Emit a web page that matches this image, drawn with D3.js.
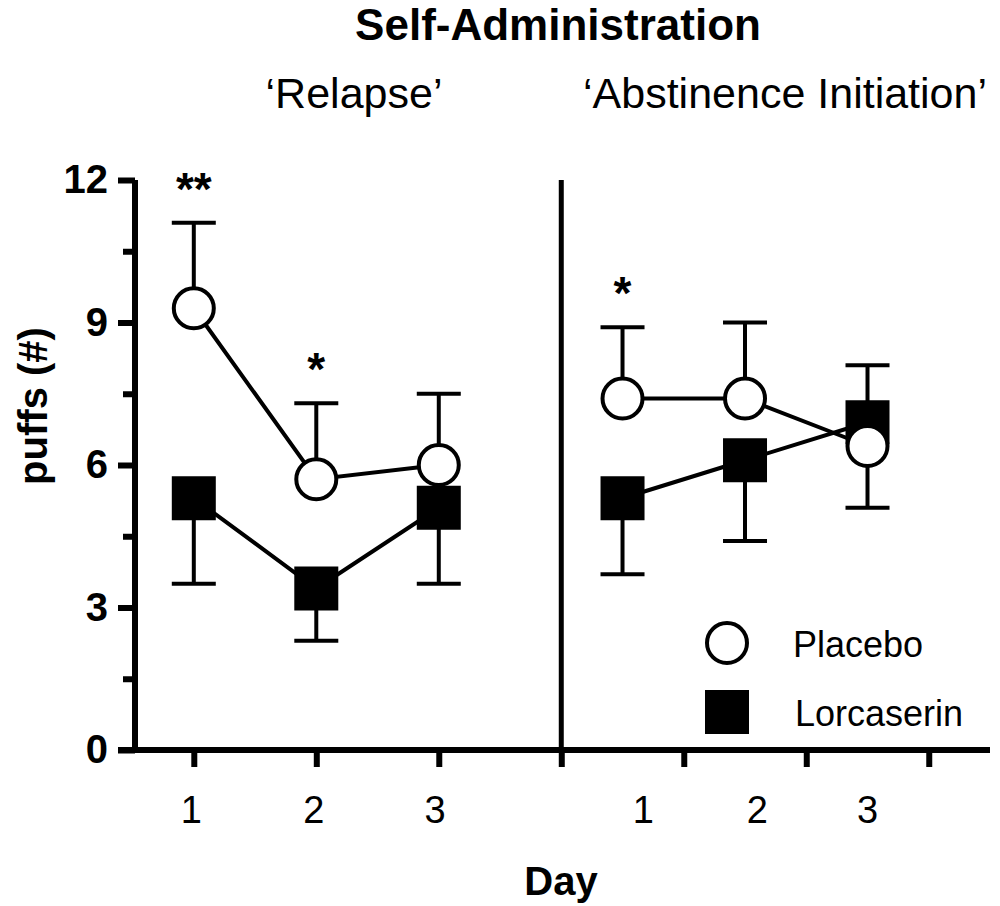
<!DOCTYPE html>
<html>
<head>
<meta charset="utf-8">
<script src="https://cdn.jsdelivr.net/npm/d3@7"></script>
<style>
  html, body { margin: 0; padding: 0; background: #fff; }
  svg { display: block; }
  text { font-family: "Liberation Sans", Arial, Helvetica, sans-serif; fill: #000; }
</style>
</head>
<body>
<svg id="chart" width="1000" height="906"></svg>
<script>
// ---------- data ----------
const days = [1, 2, 3];
const dayTickLabels = ["1", "2", "3"];
const phases = ["‘Relapse’", "‘Abstinence Initiation’"];
const seriesNames = ["Placebo", "Lorcaserin"];

// Relapse phase
const placeboRelapse = [9.3, 5.7, 6.0];
const placeboRelapseSEM = [1.8, 1.6, 1.5];
const placeboRelapseDir = [1, 1, 1];
const lorcaserinRelapse = [5.3, 3.4, 5.1];
const lorcaserinRelapseSEM = [1.8, 1.1, 1.6];
const lorcaserinRelapseDir = [-1, -1, -1];

// Abstinence initiation phase
const placeboAbstinence = [7.4, 7.4, 6.4];
const placeboAbstinenceSEM = [1.5, 1.6, 1.3];
const placeboAbstinenceDir = [1, 1, -1];
const lorcaserinAbstinence = [5.3, 6.1, 6.9];
const lorcaserinAbstinenceSEM = [1.6, 1.7, 1.2];
const lorcaserinAbstinenceDir = [-1, -1, 1];

// significance marks: [phase index, day, label]
const sigPhase = [0, 0, 1];
const sigDay = [1, 2, 1];
const sigLabel = ["**", "*", "*"];

const yTicksMajor = [0, 3, 6, 9, 12];
const yTicksMinor = [1.5, 4.5, 7.5, 10.5];

// ---------- layout ----------
const svg = d3.select("#chart");
const FONT = '"Liberation Sans", Arial, Helvetica, sans-serif';

// x in "slot" units: relapse days at 1..3, abstinence days at 4.5..6.5
const phaseOffset = [0, 3.5];
const x = d3.scaleLinear().domain([0.52, 7.5]).range([135, 990]);
const y = d3.scaleLinear().domain([0, 12]).range([750, 180]);
// label slots along x axis for day numbers (as drawn in the source figure)
const dayLabelSlots = [0.98, 1.98, 2.97, 4.67, 5.6, 6.5];

const AXIS_W = 6;
const LINE_W = 4;

// ---------- axes ----------
const yAxis = d3.axisLeft(y).tickValues(yTicksMajor).tickSize(17).tickPadding(10)
  .tickFormat(d3.format("d"));
const gy = svg.append("g").attr("transform", `translate(${x(0.52)},0)`).call(yAxis);
gy.select(".domain").attr("stroke", "#000").attr("stroke-width", AXIS_W)
  .attr("d", `M0,${y(12)}V${y(0)}`);
gy.selectAll(".tick line").attr("stroke", "#000").attr("stroke-width", AXIS_W);
gy.selectAll(".tick text").attr("font-family", FONT).attr("font-size", 40)
  .attr("font-weight", "bold").attr("fill", "#000");
const yAxisMinor = d3.axisLeft(y).tickValues(yTicksMinor).tickSize(12).tickFormat("");
const gym = svg.append("g").attr("transform", `translate(${x(0.52)},0)`).call(yAxisMinor);
gym.select(".domain").remove();
gym.selectAll(".tick line").attr("stroke", "#000").attr("stroke-width", AXIS_W);

const xAxis = d3.axisBottom(x).tickValues([1, 2, 3, 4, 5, 6, 7]).tickSize(17).tickFormat("");
const gx = svg.append("g").attr("transform", `translate(0,${y(0)})`).call(xAxis);
gx.select(".domain").attr("stroke", "#000").attr("stroke-width", AXIS_W)
  .attr("d", `M${x(0.52) - 17},0H${x(7.5)}`);
gx.selectAll(".tick line").attr("stroke", "#000").attr("stroke-width", AXIS_W);

svg.append("g").selectAll("text").data(dayLabelSlots).join("text")
  .attr("x", d => x(d))
  .attr("y", 823)
  .attr("text-anchor", "middle")
  .attr("font-size", 38)
  .text((d, i) => dayTickLabels[i % 3]);

svg.append("line")
  .attr("x1", x(4)).attr("x2", x(4))
  .attr("y1", y(12)).attr("y2", y(0))
  .attr("stroke", "#000").attr("stroke-width", 5);

// ---------- titles ----------
svg.append("text").attr("x", 558).attr("y", 40).attr("text-anchor", "middle")
  .attr("font-size", 44).attr("font-weight", "bold").text("Self-Administration");
svg.append("text").attr("x", 354).attr("y", 108).attr("text-anchor", "middle")
  .attr("font-size", 43).text(phases[0]);
svg.append("text").attr("x", 785).attr("y", 108).attr("text-anchor", "middle")
  .attr("font-size", 43).text(phases[1]);
svg.append("text").attr("x", 561).attr("y", 895).attr("text-anchor", "middle")
  .attr("font-size", 40).attr("font-weight", "bold").text("Day");
svg.append("text")
  .attr("transform", `translate(33,${406}) rotate(-90)`)
  .attr("text-anchor", "middle").attr("dominant-baseline", "central")
  .attr("font-size", 40).attr("font-weight", "bold").text("puffs (#)");

// ---------- data marks ----------
function build(values, sem, dir, phase) {
  return days.map((d, i) => ({
    slot: d + phaseOffset[phase], v: values[i], e: sem[i], dir: dir[i]
  }));
}
const placeboData = [
  build(placeboRelapse, placeboRelapseSEM, placeboRelapseDir, 0),
  build(placeboAbstinence, placeboAbstinenceSEM, placeboAbstinenceDir, 1)
];
const lorcData = [
  build(lorcaserinRelapse, lorcaserinRelapseSEM, lorcaserinRelapseDir, 0),
  build(lorcaserinAbstinence, lorcaserinAbstinenceSEM, lorcaserinAbstinenceDir, 1)
];

const line = d3.line().x(d => x(d.slot)).y(d => y(d.v));
const CAP = 44;

function drawErrors(g, data) {
  data.forEach(pts => {
    pts.forEach(p => {
      const end = p.v + p.dir * p.e;
      g.append("line").attr("x1", x(p.slot)).attr("x2", x(p.slot))
        .attr("y1", y(p.v)).attr("y2", y(end))
        .attr("stroke", "#000").attr("stroke-width", LINE_W);
      g.append("line").attr("x1", x(p.slot) - CAP / 2).attr("x2", x(p.slot) + CAP / 2)
        .attr("y1", y(end)).attr("y2", y(end))
        .attr("stroke", "#000").attr("stroke-width", LINE_W);
    });
  });
}
function drawLines(g, data) {
  data.forEach(pts => {
    g.append("path").attr("d", line(pts)).attr("fill", "none")
      .attr("stroke", "#000").attr("stroke-width", LINE_W);
  });
}

const gErr = svg.append("g");
drawErrors(gErr, placeboData);
drawErrors(gErr, lorcData);
const gLines = svg.append("g");
drawLines(gLines, placeboData);
drawLines(gLines, lorcData);

const SQ = 44;
const gMarks = svg.append("g");
lorcData.forEach(pts => {
  gMarks.selectAll(null).data(pts).join("rect")
    .attr("x", d => x(d.slot) - SQ / 2).attr("y", d => y(d.v) - SQ / 2)
    .attr("width", SQ).attr("height", SQ).attr("fill", "#000");
});
placeboData.forEach(pts => {
  gMarks.selectAll(null).data(pts).join("circle")
    .attr("cx", d => x(d.slot)).attr("cy", d => y(d.v)).attr("r", 20)
    .attr("fill", "#fff").attr("stroke", "#000").attr("stroke-width", LINE_W);
});

svg.append("g").selectAll("text").data(sigLabel).join("text")
  .attr("x", (d, i) => x(sigDay[i] + phaseOffset[sigPhase[i]]))
  .attr("y", (d, i) => {
    const p = placeboData[sigPhase[i]][sigDay[i] - 1];
    return y(p.v + p.e) - 18;
  })
  .attr("text-anchor", "middle").attr("font-size", 46).attr("font-weight", "bold")
  .text(d => d);

// ---------- legend ----------
const lg = svg.append("g");
lg.append("circle").attr("cx", 727).attr("cy", 643).attr("r", 20)
  .attr("fill", "#fff").attr("stroke", "#000").attr("stroke-width", LINE_W);
lg.append("rect").attr("x", 727 - SQ / 2).attr("y", 712 - SQ / 2)
  .attr("width", SQ).attr("height", SQ).attr("fill", "#000");
lg.append("text").attr("x", 793).attr("y", 657).attr("font-size", 36).text(seriesNames[0]);
lg.append("text").attr("x", 795).attr("y", 726).attr("font-size", 36).text(seriesNames[1]);
</script>
</body>
</html>
